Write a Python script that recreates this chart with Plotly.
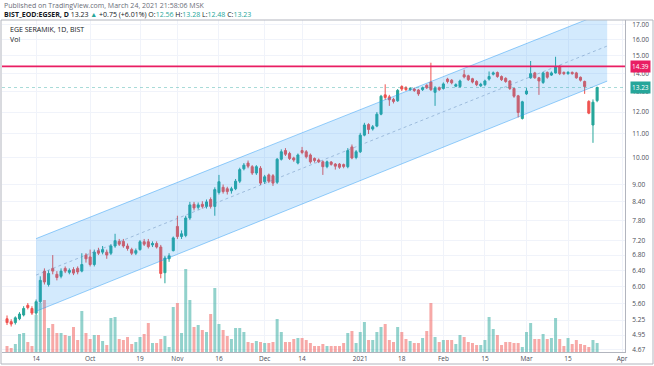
import math
import pandas as pd
import plotly.graph_objects as go

# ---------------- data ----------------
holidays = ["2020-10-29", "2021-01-01"]
first_day = "2020-09-03"
last_day = "2021-03-24"

open_ = [5.28, 5.22, 5.20, 5.28, 5.36, 5.57, 5.50, 5.40, 5.65, 6.38, 6.05, 6.45, 6.30, 6.25, 6.45, 6.35,
         6.42, 6.45, 6.38, 6.80, 6.75, 6.55, 6.92, 6.88, 6.88, 6.85, 7.05, 7.18, 7.18, 7.05, 6.95, 6.85,
         6.95, 7.17, 7.17, 7.08, 7.12, 7.02, 6.34, 6.70, 6.92, 7.62, 7.32, 7.35, 7.88, 8.32, 8.22, 8.32,
         8.25, 8.48, 8.25, 8.72, 8.90, 8.85, 8.78, 8.85, 9.12, 9.58, 9.80, 9.66, 9.42, 9.60, 9.10, 9.35,
         9.32, 9.08, 9.95, 10.30, 10.18, 10.00, 9.80, 10.30, 10.25, 10.12, 9.98, 9.92, 9.85, 9.66, 9.84,
         9.76, 9.76, 9.74, 9.66, 10.45, 10.02, 10.25, 10.95, 11.42, 11.22, 11.35, 11.90, 12.85, 12.75,
         12.62, 12.55, 13.28, 13.22, 13.12, 13.15, 13.10, 13.12, 13.35, 13.52, 12.98, 13.22, 13.18,
         13.68, 13.62, 13.30, 13.28, 13.92, 13.86, 13.70, 13.55, 13.32, 13.38, 13.68, 13.95, 14.04,
         13.82, 13.72, 13.58, 13.18, 12.80, 11.70, 12.90, 13.75, 14.02, 13.75, 13.50, 14.05, 13.90,
         14.02, 14.40, 14.05, 13.98, 14.05, 14.02, 13.78, 13.55, 12.52, 11.40, 12.56]
high = [5.35, 5.27, 5.33, 5.42, 5.55, 5.62, 5.55, 5.70, 6.25, 6.45, 6.40, 6.80, 6.38, 6.45, 6.50, 6.45,
        6.48, 6.50, 6.85, 6.85, 6.95, 6.95, 7.00, 7.05, 6.95, 7.10, 7.40, 7.25, 7.25, 7.12, 7.00, 6.98,
        7.22, 7.25, 7.25, 7.18, 7.18, 7.08, 6.78, 6.85, 7.32, 7.95, 7.50, 7.95, 8.40, 8.40, 8.38, 8.42,
        8.48, 8.55, 8.90, 9.35, 9.00, 8.92, 8.92, 9.20, 9.62, 9.80, 9.90, 9.72, 9.72, 9.68, 9.35, 9.40,
        9.38, 10.00, 10.35, 10.40, 10.25, 10.05, 10.18, 10.45, 10.32, 10.18, 10.02, 9.98, 9.90, 9.90,
        9.88, 9.80, 9.80, 9.78, 10.40, 10.55, 10.32, 11.05, 11.50, 11.48, 11.40, 12.00, 12.85, 13.40,
        12.85, 12.70, 13.15, 13.35, 13.30, 13.25, 13.22, 13.15, 13.28, 13.40, 14.60, 13.30, 13.28,
        13.50, 13.75, 13.68, 13.45, 13.65, 14.20, 13.92, 13.75, 13.62, 13.48, 13.65, 14.10, 14.10,
        14.10, 13.88, 13.78, 13.62, 13.22, 12.85, 12.55, 13.20, 14.70, 14.08, 13.80, 14.08, 14.10,
        14.10, 14.95, 14.45, 14.10, 14.12, 14.10, 14.08, 13.82, 13.60, 12.58, 12.62, 13.28]
low = [5.15, 5.12, 5.16, 5.25, 5.33, 5.48, 5.36, 5.36, 5.62, 6.05, 6.00, 6.30, 6.15, 6.20, 6.33, 6.30,
       6.28, 6.30, 6.35, 6.60, 6.50, 6.50, 6.80, 6.82, 6.70, 6.80, 7.00, 7.05, 7.00, 6.92, 6.80, 6.80,
       6.92, 7.05, 6.98, 7.02, 6.98, 6.20, 6.08, 6.62, 6.90, 7.25, 7.25, 7.30, 7.82, 8.12, 8.15, 8.18,
       8.18, 8.18, 7.95, 8.65, 8.68, 8.65, 8.68, 8.80, 9.05, 9.52, 9.60, 9.35, 9.35, 8.98, 9.02, 9.05,
       8.95, 9.02, 9.90, 10.08, 9.92, 9.85, 9.75, 10.15, 9.98, 9.78, 9.82, 9.80, 9.35, 9.60, 9.70,
       9.55, 9.58, 9.60, 9.60, 9.95, 9.95, 10.20, 10.90, 11.00, 11.15, 11.30, 11.85, 12.60, 12.30,
       12.42, 12.50, 13.05, 13.05, 13.05, 13.00, 12.80, 13.05, 13.15, 13.05, 12.30, 13.05, 13.12,
       13.45, 13.40, 13.25, 13.22, 13.72, 13.58, 13.45, 13.30, 13.25, 13.30, 13.60, 13.88, 13.75,
       13.58, 13.48, 13.10, 12.70, 11.75, 11.65, 12.85, 13.70, 13.70, 12.85, 13.42, 13.70, 13.85,
       13.98, 13.90, 13.90, 13.92, 13.92, 13.70, 13.55, 12.90, 11.90, 10.62, 12.48]
close = [5.20, 5.17, 5.30, 5.38, 5.50, 5.52, 5.40, 5.65, 6.15, 6.11, 6.32, 6.38, 6.22, 6.38, 6.38, 6.40,
         6.33, 6.36, 6.55, 6.70, 6.55, 6.88, 6.85, 6.95, 6.80, 7.05, 7.20, 7.10, 7.05, 6.98, 6.85, 6.92,
         7.17, 7.10, 7.03, 7.12, 7.02, 6.32, 6.72, 6.78, 7.28, 7.32, 7.40, 7.88, 8.30, 8.20, 8.30, 8.25,
         8.40, 8.25, 8.82, 9.10, 8.75, 8.75, 8.85, 9.12, 9.55, 9.72, 9.68, 9.42, 9.66, 9.05, 9.28, 9.12,
         9.05, 9.95, 10.25, 10.15, 9.98, 9.92, 10.12, 10.22, 10.05, 9.85, 9.90, 9.85, 9.66, 9.85, 9.75,
         9.68, 9.64, 9.67, 10.30, 10.00, 10.25, 10.95, 11.40, 11.20, 11.32, 11.90, 12.78, 12.72, 12.60,
         12.52, 13.08, 13.15, 13.12, 13.18, 13.08, 12.90, 13.22, 13.22, 13.12, 13.20, 13.12, 13.42,
         13.55, 13.48, 13.38, 13.58, 13.80, 13.65, 13.52, 13.38, 13.40, 13.58, 13.82, 14.02, 13.82,
         13.65, 13.55, 13.18, 12.78, 11.98, 12.50, 13.05, 13.98, 13.75, 13.58, 14.02, 13.78, 14.02,
         14.35, 13.98, 13.98, 14.05, 13.98, 13.75, 13.62, 13.28, 11.95, 12.48, 13.23]
volume = [6, 4, 8, 18, 19, 10, 6, 37, 49, 52, 24, 28, 19, 19, 17, 16, 25, 12, 41, 19, 13, 17, 17, 11, 7,
          34, 35, 13, 12, 15, 8, 10, 15, 18, 29, 9, 9, 13, 16, 5, 45, 49, 19, 83, 52, 25, 27, 22, 20, 38,
          64, 28, 22, 16, 13, 24, 24, 20, 10, 9, 11, 10, 9, 9, 10, 33, 20, 10, 10, 13, 14, 14, 12, 9, 6,
          6, 8, 6, 6, 6, 6, 9, 19, 21, 9, 20, 30, 12, 12, 20, 25, 28, 12, 10, 25, 20, 13, 11, 9, 9, 14,
          21, 49, 15, 10, 12, 12, 12, 8, 17, 15, 10, 9, 7, 7, 12, 35, 23, 17, 7, 10, 10, 9, 9, 5, 20, 29,
          13, 13, 18, 13, 14, 34, 13, 6, 14, 8, 12, 8, 7, 5, 12, 9]

# regression channel (start / end dates and prices)
channel_x = ["2020-09-14 12:00", "2021-03-26 22:00"]
channel_upper = [7.26, 17.9]
channel_mid = [6.28, 15.6]
channel_lower = [5.44, 13.57]
hline_price = 14.39
last_price = 13.23

tick_dates = ["2020-09-14", "2020-10-01", "2020-10-19", "2020-11-02", "2020-11-16", "2020-12-01",
              "2020-12-14", "2021-01-04", "2021-01-18", "2021-02-01", "2021-02-15", "2021-03-01",
              "2021-03-15", "2021-04-01"]
tick_text = ["14", "Oct", "19", "Nov", "16", "Dec", "14", "2021", "18", "Feb", "15", "Mar", "15", "Apr"]
price_ticks = [4.67, 4.95, 5.25, 5.60, 6.00, 6.40, 6.80, 7.20, 7.80, 8.40, 9.00, 10.00, 11.00, 12.00,
               13.00, 14.00, 15.00, 16.00, 17.00]

# ---------------- build ----------------
dates = [d for d in pd.bdate_range(first_day, last_day) if d.strftime("%Y-%m-%d") not in holidays]
x = [d + pd.Timedelta(hours=12) for d in dates]
assert len(x) == len(close) == len(open_) == len(high) == len(low) == len(volume)

UP = "#26a69a"
DOWN = "#ef5350"
vol_colors = ["rgba(38,166,154,0.5)" if c >= o else "rgba(239,83,80,0.5)" for o, c in zip(open_, close)]

x_left = "2020-09-02 07:00"
x_right = "2021-04-02 05:00"

fig = go.Figure()

fig.add_trace(go.Bar(x=x, y=volume, marker=dict(color=vol_colors, line=dict(width=0)),
                     yaxis="y", hoverinfo="skip"))

fig.add_trace(go.Scatter(x=[channel_x[0], channel_x[1], channel_x[1], channel_x[0], channel_x[0]],
                         y=[channel_upper[0], channel_upper[1], channel_lower[1], channel_lower[0], channel_upper[0]],
                         fill="toself", fillcolor="rgba(33,150,243,0.2)", mode="none",
                         yaxis="y2", hoverinfo="skip"))
fig.add_trace(go.Scatter(x=channel_x, y=channel_upper, mode="lines",
                         line=dict(color="rgba(33,150,243,0.45)", width=1), yaxis="y2"))
fig.add_trace(go.Scatter(x=channel_x, y=channel_lower, mode="lines",
                         line=dict(color="rgba(33,150,243,0.45)", width=1), yaxis="y2"))
fig.add_trace(go.Scatter(x=channel_x, y=channel_mid, mode="lines",
                         line=dict(color="rgba(90,130,180,0.45)", width=1, dash="3px,3px"), yaxis="y2"))
fig.add_trace(go.Scatter(x=[x_left, x_right], y=[last_price, last_price], mode="lines",
                         line=dict(color="rgba(38,166,154,0.4)", width=1, dash="dot"), yaxis="y2"))
fig.add_trace(go.Scatter(x=[x_left, x_right], y=[hline_price, hline_price], mode="lines",
                         line=dict(color="#e91e63", width=1.6), yaxis="y2"))

fig.add_trace(go.Candlestick(x=x, open=open_, high=high, low=low, close=close, yaxis="y2",
                             increasing=dict(line=dict(color=UP, width=1), fillcolor=UP),
                             decreasing=dict(line=dict(color=DOWN, width=1), fillcolor=DOWN),
                             whiskerwidth=0))

W, H = 654, 366
ml, mr, mt, mb = 2, 29, 20, 14
pw, ph = W - ml - mr, H - mt - mb

def px_x(p):
    return (p - ml) / pw

def px_y(p):
    return 1 - (p - mt) / ph

font_fam = "Open Sans, Noto Sans, sans-serif"
GRID = "#f0f3fa"
TXT = "#4a4d57"

fig.update_layout(
    width=W, height=H,
    margin=dict(l=ml, r=mr, t=mt, b=mb),
    paper_bgcolor="white", plot_bgcolor="white",
    showlegend=False, hovermode=False,
    bargap=0.28,
    font=dict(family=font_fam, size=7, color=TXT),
    xaxis=dict(type="date", range=[x_left, x_right],
               rangebreaks=[dict(bounds=["sat", "mon"]), dict(values=holidays)],
               tickvals=[d + " 12:00" for d in tick_dates], ticktext=tick_text,
               showgrid=True, gridcolor=GRID, gridwidth=1, zeroline=False,
               showline=True, linecolor="#b2b5be", linewidth=1, ticks="",
               tickfont=dict(size=6.5, color=TXT), rangeslider=dict(visible=False)),
    yaxis=dict(range=[0, 332], visible=False, showgrid=False, fixedrange=True),
    yaxis2=dict(overlaying="y", side="right", type="log",
                range=[math.log10(4.627), math.log10(17.3)],
                tickvals=price_ticks, ticktext=["%.2f" % v for v in price_ticks],
                showgrid=True, gridcolor=GRID, gridwidth=1, zeroline=False,
                showline=True, linecolor="#b2b5be", linewidth=1, ticks="",
                ticklabeloverflow="allow",
                ticklabelstandoff=5, tickfont=dict(size=6.5, color=TXT)),
)

# outer frame
fig.add_shape(type="rect", xref="paper", yref="paper",
              x0=px_x(1), x1=px_x(653), y0=px_y(364), y1=px_y(20),
              line=dict(color="#b2b5be", width=1), fillcolor="rgba(0,0,0,0)", layer="above")

# header
fig.add_annotation(xref="paper", yref="paper", x=px_x(2), y=px_y(5), xanchor="left", yanchor="middle",
                   showarrow=False, text="Published on TradingView.com, March 24, 2021 21:58:06 MSK",
                   font=dict(size=7, color="#6a6d78"))
teal = UP
hdr = ("<b>BIST_EOD:EGSER, D</b> 13.23 <span style='color:%s'>▲</span> +0.75 (+6.01%%) "
       "O:<span style='color:%s'>12.56</span> H:<span style='color:%s'>13.28</span> "
       "L:<span style='color:%s'>12.48</span> C:<span style='color:%s'>13.23</span>") % (teal, teal, teal, teal, teal)
fig.add_annotation(xref="paper", yref="paper", x=px_x(2), y=px_y(14), xanchor="left", yanchor="middle",
                   showarrow=False, text=hdr, font=dict(size=7, color="#131722"))
fig.add_annotation(xref="paper", yref="paper", x=px_x(8), y=px_y(29), xanchor="left", yanchor="middle",
                   showarrow=False, text="EGE SERAMIK, 1D, BIST", font=dict(size=7, color="#131722"))
fig.add_annotation(xref="paper", yref="paper", x=px_x(8), y=px_y(39), xanchor="left", yanchor="middle",
                   showarrow=False, text="Vol", font=dict(size=7, color="#131722"))

# price labels on the right scale
fig.add_annotation(xref="paper", yref="y2", x=1, y=math.log10(hline_price), xanchor="left", yanchor="middle",
                   xshift=5, showarrow=False, text="%.2f" % hline_price, bgcolor="#e91e63",
                   font=dict(size=6.5, color="white"), borderpad=1)
fig.add_annotation(xref="paper", yref="y2", x=1, y=math.log10(last_price), xanchor="left", yanchor="middle",
                   xshift=5, showarrow=False, text="%.2f" % last_price, bgcolor=UP,
                   font=dict(size=6.5, color="white"), borderpad=1)

fig.write_html("out.html", config={"displayModeBar": False},
               post_script="document.body.style.margin='0px';")
